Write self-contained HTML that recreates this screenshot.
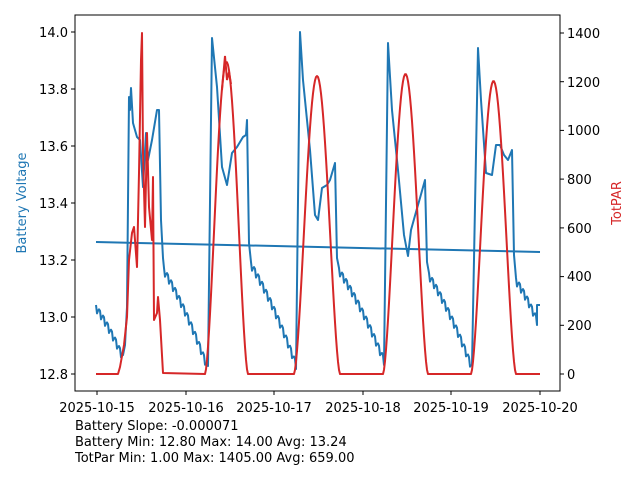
<!DOCTYPE html>
<html><head><meta charset="utf-8"><style>
html,body{margin:0;padding:0;background:#fff;}
svg text{font-family:"DejaVu Sans","Liberation Sans",sans-serif;}
</style></head><body>
<svg id="s" width="640" height="480" viewBox="0 0 640 480" xmlns="http://www.w3.org/2000/svg">
<rect width="640" height="480" fill="#fff"/>
<g id="plot"></g>
<rect x="75" y="15" width="485" height="376" fill="none" stroke="#000" stroke-width="1"/>
<g font-size="13" fill="#000">
<g stroke="#000">
<line x1="75" x2="71" y1="32" y2="32"/><line x1="75" x2="71" y1="89" y2="89"/><line x1="75" x2="71" y1="146" y2="146"/><line x1="75" x2="71" y1="203" y2="203"/><line x1="75" x2="71" y1="260" y2="260"/><line x1="75" x2="71" y1="317" y2="317"/><line x1="75" x2="71" y1="374" y2="374"/>
<line x1="560" x2="564" y1="374" y2="374"/><line x1="560" x2="564" y1="325.3" y2="325.3"/><line x1="560" x2="564" y1="276.6" y2="276.6"/><line x1="560" x2="564" y1="227.9" y2="227.9"/><line x1="560" x2="564" y1="179.1" y2="179.1"/><line x1="560" x2="564" y1="130.4" y2="130.4"/><line x1="560" x2="564" y1="81.7" y2="81.7"/><line x1="560" x2="564" y1="33" y2="33"/>
<line x1="97" x2="97" y1="391" y2="395"/><line x1="186" x2="186" y1="391" y2="395"/><line x1="274" x2="274" y1="391" y2="395"/><line x1="363" x2="363" y1="391" y2="395"/><line x1="451" x2="451" y1="391" y2="395"/><line x1="540" x2="540" y1="391" y2="395"/>
</g>
<g text-anchor="end" font-size="13">
<text x="68" y="37">14.0</text><text x="68" y="94">13.8</text><text x="68" y="151">13.6</text><text x="68" y="208">13.4</text><text x="68" y="265">13.2</text><text x="68" y="322">13.0</text><text x="68" y="379">12.8</text>
</g>
<g font-size="13">
<text x="567" y="379">0</text><text x="567" y="330">200</text><text x="567" y="281">400</text><text x="567" y="233">600</text><text x="567" y="184">800</text><text x="567" y="135">1000</text><text x="567" y="87">1200</text><text x="567" y="38">1400</text>
</g>
<g text-anchor="middle" font-size="13">
<text x="97" y="412">2025-10-15</text><text x="186" y="412">2025-10-16</text><text x="274" y="412">2025-10-17</text><text x="363" y="412">2025-10-18</text><text x="451" y="412">2025-10-19</text><text x="540" y="412">2025-10-20</text>
</g>
<text transform="translate(26,203) rotate(-90)" text-anchor="middle" fill="#1f77b4">Battery Voltage</text>
<text transform="translate(621,203) rotate(-90)" text-anchor="middle" fill="#d62728">TotPAR</text>
<text x="75" y="430">Battery Slope: -0.000071</text>
<text x="75" y="446">Battery Min: 12.80 Max: 14.00 Avg: 13.24</text>
<text x="75" y="462">TotPar Min: 1.00 Max: 1405.00 Avg: 659.00</text>
</g>
</svg>
<script>
var P=[];
function saw(x0,y0,x1,y1){for(var x=x0;x<=x1;x+=1){var t=(x-x0)/(x1-x0);var y=y0+(y1-y0)*(0.75*t+0.25*t*t);var k=(x-x0)%4;y+= (k==1?7:k==2?3:0);P.push([x,y]);}}
function add(a){for(var i=0;i<a.length;i++)P.push(a[i]);}
saw(96,305,123,355);
add([[125,345],[127,307],[129,97],[130,110],[131,88],[133,123],[137,137],[140,140],[143,187],[146,133],[148,160],[152,140],[157,110],[159,110],[161,220],[163,258]]);
saw(164,268,208,366);
add([[212,38],[217,87],[222,167],[227,185],[232,153],[237,147],[243,137],[246,135],[247,120],[249,243]]);
saw(251,262,296,362);
add([[300,32],[303,80],[310,150],[315,215],[318,220],[322,188],[327,185],[330,180],[335,163],[337,258]]);
saw(339,268,384,358);
add([[388,43],[392,110],[398,170],[404,235],[408,256],[411,230],[416,212],[420,198],[425,180],[427,262]]);
saw(429,273,472,365);
add([[478,48],[481,100],[486,173],[492,175],[496,145],[500,145],[504,155],[508,160],[512,150],[514,255]]);
saw(516,278,537,318);
add([[537,305],[540,305]]);
function pl(pts,c){return '<polyline fill="none" stroke="'+c+'" stroke-width="2" stroke-linejoin="round" points="'+pts.map(function(p){return p[0].toFixed(1)+','+p[1].toFixed(1)}).join(' ')+'"/>';}
var R=[[96,374],[118,374],[120,367],[124,345],[127,317],[129,260],[132,233],[134,227],[137,267],[139,173],[141,60],[142,33],[143,153],[145,227],[147,133],[149,207],[152,240],[153,177],[154,320],[157,313],[158,297],[160,320],[163,373]];
function bell(a,b,h){for(var x=a;x<=b;x+=1){var t=(x-a)/(b-a);R.push([x,374-h*Math.pow(Math.sin(Math.PI*t),1.6)]);}}
R.push([205,374]);bell(205,248,312);R.push([294,374]);bell(294,340,298);R.push([383,374]);bell(383,428,300);R.push([471,374]);bell(471,516,293);R.push([540,374]);
// add jagged top for day 2
var g=document.getElementById('plot');
g.innerHTML=pl(P,'#1f77b4')+'<line x1="96" y1="242" x2="540" y2="252" stroke="#1f77b4" stroke-width="2"/>'+pl(R,'#d62728')+'<polyline fill="none" stroke="#d62728" stroke-width="2" points="222,90 225,56 227,80 229,72 231,84"/>';
</script>
</body></html>
